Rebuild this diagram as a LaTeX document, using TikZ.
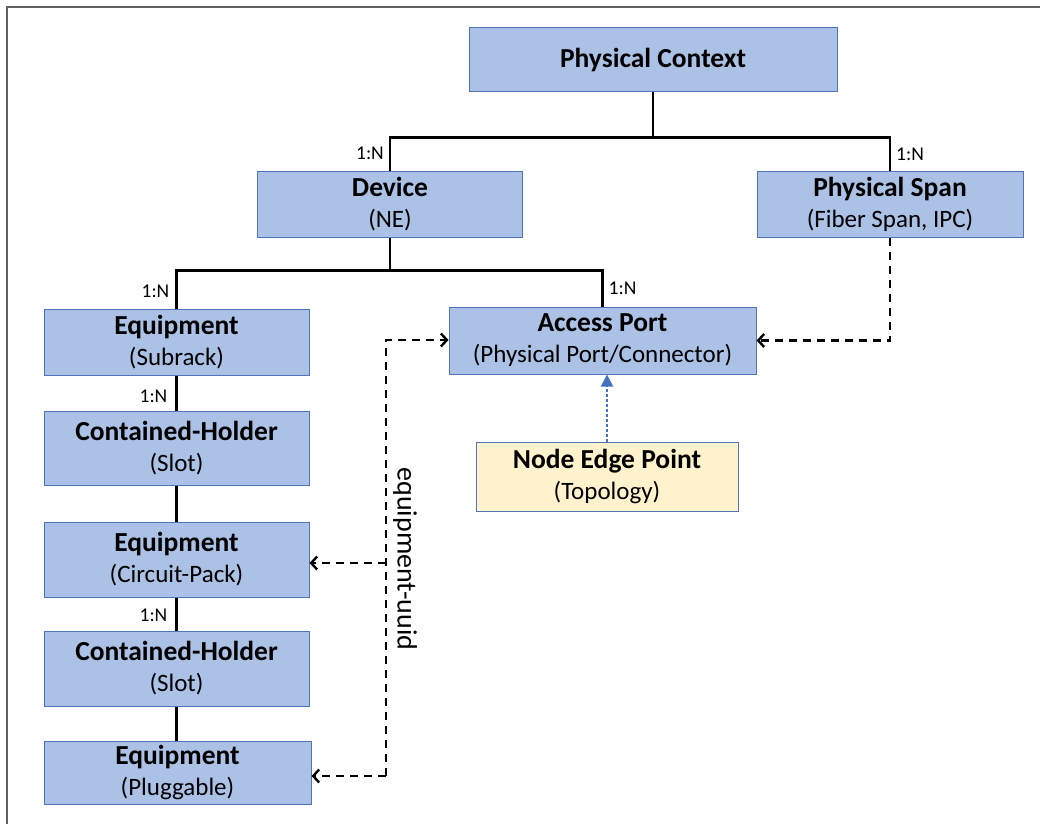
\documentclass[tikz,border=0pt]{standalone}
\usepackage{fontspec}
\setmainfont{Carlito}
\usetikzlibrary{arrows.meta,calc}

\definecolor{boxfill}{HTML}{ABC1E5}
\definecolor{boxedge}{HTML}{4F74B8}
\definecolor{nepfill}{HTML}{FFF2CC}
\definecolor{linkblue}{HTML}{4472C4}
\definecolor{framegray}{HTML}{5F5F5F}

\tikzset{
  box/.style={rectangle, draw=boxedge, fill=boxfill, line width=1pt, inner sep=0pt,
              align=center, font=\fontsize{25}{31}\selectfont},
  nepbox/.style={box, fill=nepfill},
  tree/.style={line width=2.4pt, black},
  ref/.style={line width=2.6pt, black, dash pattern=on 8pt off 6pt,
              -{Straight Barb[length=6pt,width=13pt,line width=2.4pt]}},
  topo/.style={line width=1.8pt, linkblue, dash pattern=on 3pt off 2pt,
               -{Triangle[length=12pt,width=12pt]}},
  card/.style={font=\fontsize{19.5}{19.5}\selectfont, inner sep=0pt},
}

\newcommand{\titlefont}{\fontsize{27.5}{31}\selectfont\bfseries}
\newcommand{\twoline}[2]{{\titlefont #1}\\#2}

\begin{document}
\begin{tikzpicture}[x=1pt,y=-1pt]
  \useasboundingbox (0,0) rectangle (1040,824);
  % outer frame (top and left edges)
  \draw[framegray, line width=2pt] (7,824) -- (7,7) -- (1040,7);

  % boxes
  \node[box, minimum width=368pt, minimum height=64pt] (pc) at (653,60) {\titlefont Physical Context};
  \node[box, minimum width=265pt, minimum height=66pt] (dev) at (390,204) {\twoline{Device}{(NE)}};
  \node[box, minimum width=266pt, minimum height=66pt] (span) at (890,204) {\twoline{Physical Span}{(Fiber Span, IPC)}};
  \node[box, minimum width=307pt, minimum height=67pt] (ap) at (602.5,340.5) {\twoline{Access Port}{(Physical Port/Connector)}};
  \node[nepbox, minimum width=262pt, minimum height=69pt] (nep) at (607,476.5) {\twoline{Node Edge Point}{(Topology)}};

  \node[box, minimum width=265pt, minimum height=66pt] (eq1) at (176.5,342) {\twoline{Equipment}{(Subrack)}};
  \node[box, minimum width=265pt, minimum height=74pt] (ch1) at (176.5,448) {\twoline{Contained-Holder}{(Slot)}};
  \node[box, minimum width=265pt, minimum height=75pt] (eq2) at (176.5,559.5) {\twoline{Equipment}{(Circuit-Pack)}};
  \node[box, minimum width=265pt, minimum height=75pt] (ch2) at (176.5,668.5) {\twoline{Contained-Holder}{(Slot)}};
  \node[box, minimum width=267pt, minimum height=63pt] (eq3) at (177.5,772.5) {\twoline{Equipment}{(Pluggable)}};

  % containment tree
  \draw[tree] (pc.south) -- ++(0,45) coordinate (j1);
  \draw[tree] (dev.north) |- (j1) -| (span.north);
  \draw[tree] (dev.south) -- ++(0,33) coordinate (j2);
  \draw[tree] (eq1.north) |- (j2) -| (ap.north);
  \draw[tree] (eq1.south) -- (ch1.north);
  \draw[tree] (ch1.south) -- (eq2.north);
  \draw[tree] (eq2.south) -- (ch2.north);
  \draw[tree] (ch2.south) -- (ch2.south |- eq3.north);

  % cardinalities
  \node[card, anchor=east] (c1) at ($(dev.north)+(-6,-17)$) {1:N};
  \node[card, anchor=west] (c2) at ($(span.north)+(6,-16)$) {1:N};
  \node[card, anchor=east] (c3) at ($(eq1.north)+(-7,-17)$) {1:N};
  \node[card, anchor=west] (c4) at ($(ap.north)+(6,-18)$) {1:N};
  \node[card, anchor=east] (c5) at ($(eq1.south)+(-9,21)$) {1:N};
  \node[card, anchor=east] (c6) at ($(eq2.south)+(-9,18)$) {1:N};

  % equipment-uuid references
  \coordinate (u0) at (386,340);
  \coordinate (um) at (386,563);
  \coordinate (ub) at (386,776);
  \draw[ref] (ub) -- (u0) -- (ap.west |- u0);
  \draw[ref] (um) -- (eq2.east |- um);
  \draw[ref] (ub) -- (eq3.east |- ub);
  \node[rotate=-90, font=\fontsize{28}{28}\selectfont, inner sep=0pt] (uuid) at (405,559) {equipment-uuid};

  % physical span terminates on access ports
  \coordinate (s1) at (span.south |- ap.east);
  \draw[ref] (span.south) -- (s1) -- (ap.east);

  % topology mapping
  \draw[topo] (nep.north) -- (nep.north |- ap.south);
\end{tikzpicture}
\end{document}
